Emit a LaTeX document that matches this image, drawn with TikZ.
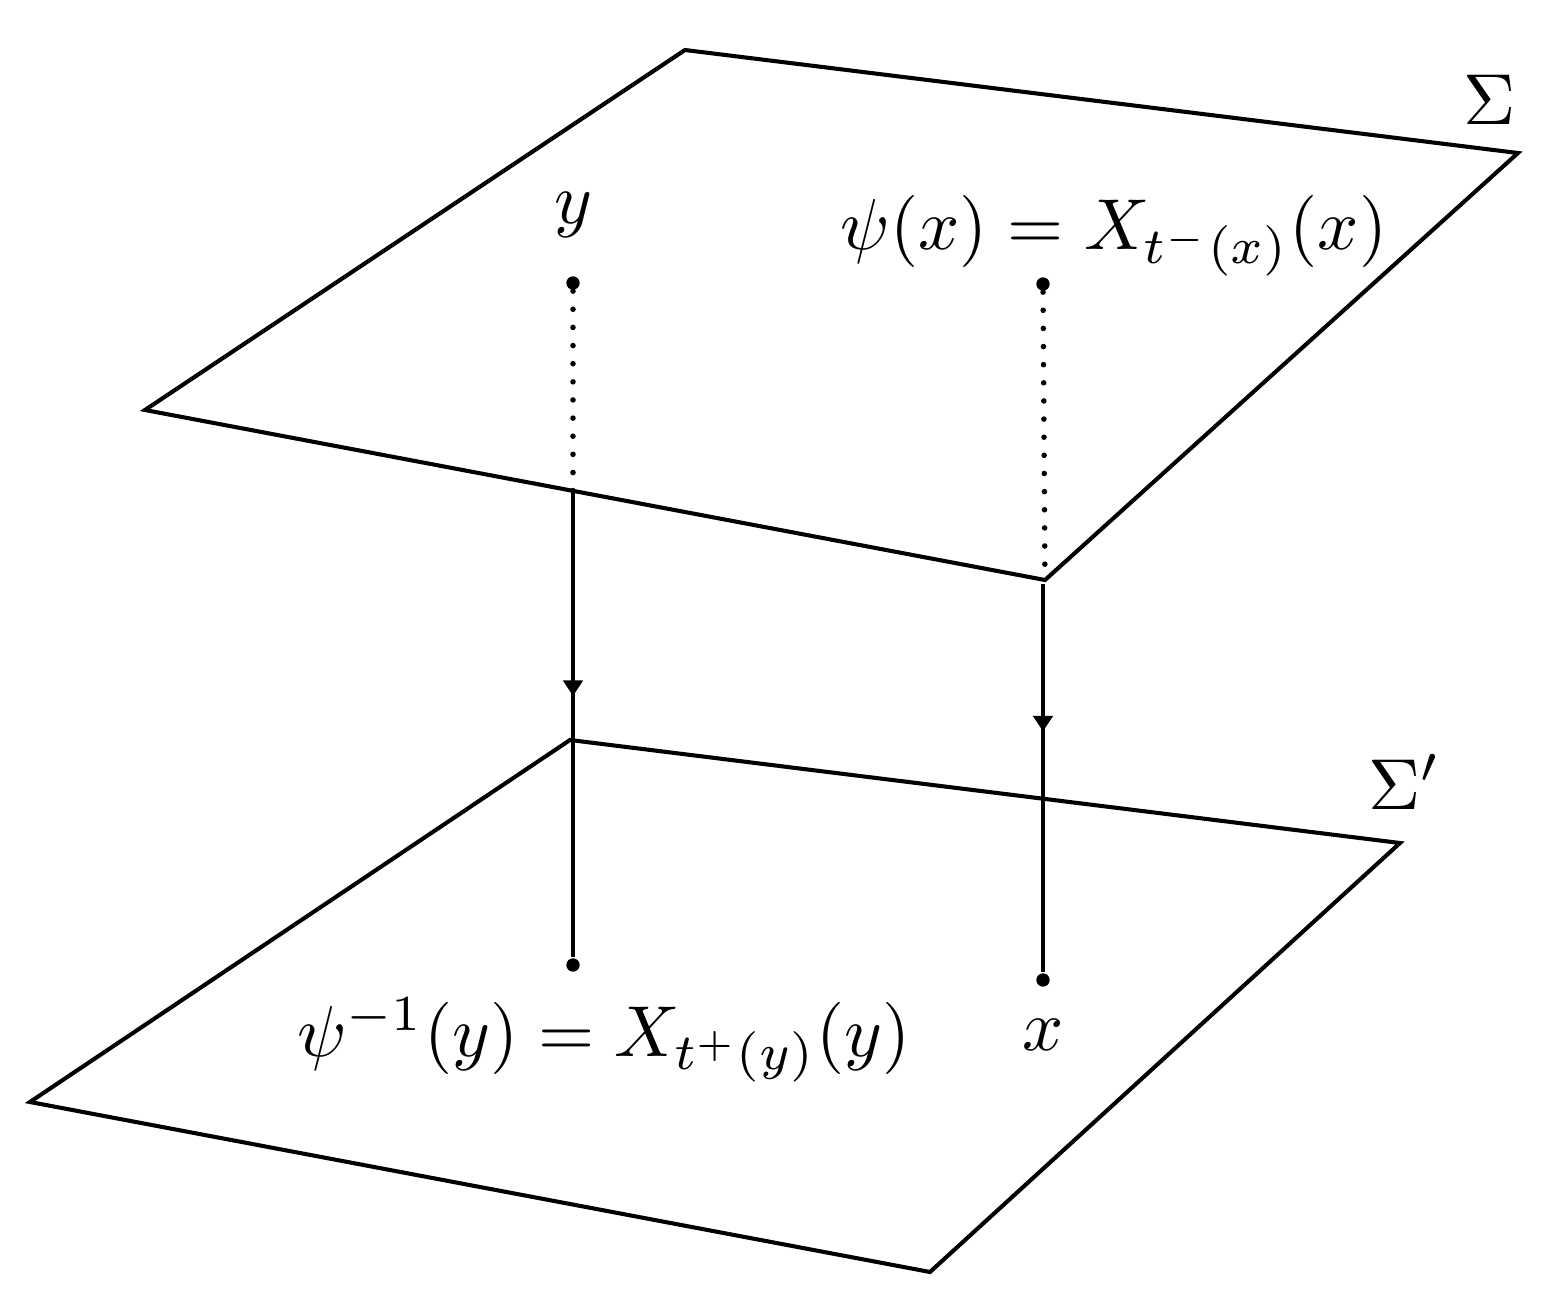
\documentclass[tikz,border=0pt]{standalone}
\usetikzlibrary{arrows.meta,decorations.markings}
\begin{document}
\begin{tikzpicture}[x=0.1351pt,y=-0.1351pt,
  edge/.style={line width=0.55pt, line join=miter},
  pt/.style={circle, fill=black, inner sep=0pt, minimum size=1.8pt},
  dots/.style={line width=0.75pt, line cap=round, dash pattern=on 0pt off 2.45pt},
  flow/.style={line width=0.55pt, postaction={decorate},
    decoration={markings, mark=at position #1 with {\arrow{Triangle[width=2.6pt,length=2.1pt]}}}},
  lbl/.style={inner sep=0pt, scale=0.975}
]
\useasboundingbox (0,0) rectangle (1544,1292);
% top plane
\coordinate (A1) at (685,50);
\coordinate (A2) at (1518,153);
\coordinate (A3) at (1045,580);
\coordinate (A4) at (145,410);
\draw[edge] (A1) -- (A2) -- (A3) -- (A4) -- cycle;
% bottom plane
\coordinate (B1) at (570,740);
\coordinate (B2) at (1400,843);
\coordinate (B3) at (930,1272);
\coordinate (B4) at (30,1102);
\draw[edge] (B1) -- (B2) -- (B3) -- (B4) -- cycle;
% labels of planes
\node[lbl] (S) at (1490,100) {$\Sigma$};
\node[lbl] (Sp) at (1405,782) {$\Sigma'$};
% points
\node[pt] (y) at (573,283) {};
\node[pt] (psix) at (1043,284) {};
\node[pt] (psiy) at (573,965) {};
\node[pt] (x) at (1043,980) {};
\coordinate (ycross) at (573,491);
\coordinate (xcross) at (1043,584);
% connectors
\draw[dots] (y) -- (ycross);
\draw[dots] (psix) -- (A3);
\draw[flow=0.44] (ycross) -- (psiy);
\draw[flow=0.38] (xcross) -- (x);
% text labels
\node[lbl] (ty) at (573,215) {$y$};
\node[lbl] (tpsix) at (1114,236) {$\psi(x) = X_{t^-(x)}(x)$};
\node[lbl] (tpsiy) at (604,1040) {$\psi^{-1}(y) = X_{t^+(y)}(y)$};
\node[lbl] (tx) at (1043,1035) {$x$};
\end{tikzpicture}
\end{document}
